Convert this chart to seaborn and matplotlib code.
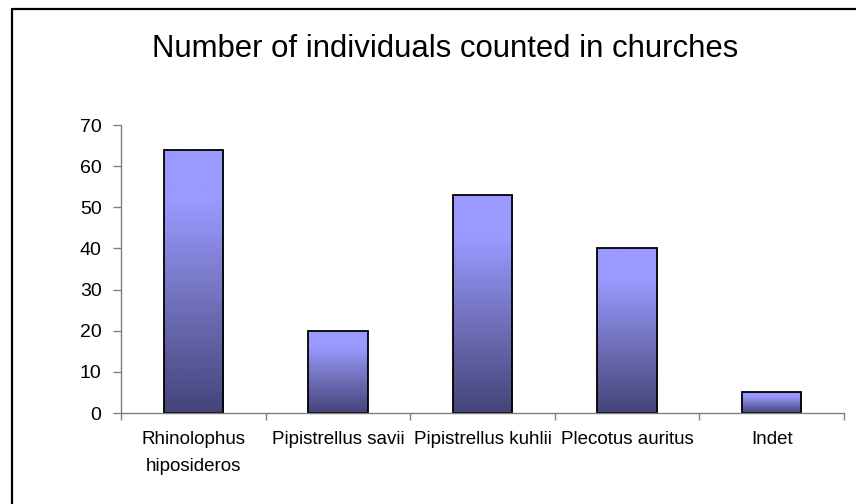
import numpy as np
import pandas as pd
import matplotlib
matplotlib.use("Agg")
import matplotlib.pyplot as plt
from matplotlib.colors import LinearSegmentedColormap
from matplotlib.lines import Line2D
import seaborn as sns

species = ["Rhinolophus\nhiposideros", "Pipistrellus savii", "Pipistrellus kuhlii",
           "Plecotus auritus", "Indet"]
counts = [64, 20, 53, 40, 5]
y_ticks = [0, 10, 20, 30, 40, 50, 60, 70]
title = "Number of individuals counted in churches"

sns.set_style("white")
plt.rcParams['font.family'] = ['Liberation Sans', 'DejaVu Sans']
plt.rcParams['text.color'] = 'black'
plt.rcParams['xtick.color'] = 'black'
plt.rcParams['ytick.color'] = 'black'

df = pd.DataFrame({"species": species, "count": counts})

fig = plt.figure(figsize=(8.56, 5.04), dpi=100)
ax = fig.add_axes([121/856, 1 - 413/504, (844 - 121)/856, (413 - 125)/504])

sns.barplot(data=df, x="species", y="count", ax=ax, width=0.41,
            color="#9999FF", edgecolor="black", linewidth=1.3)

cmap = LinearSegmentedColormap.from_list(
    "excel", [(0.0, "#44447A"), (0.45, "#7474C0"), (0.8, "#9999FF"), (1.0, "#9999FF")])
grad = np.linspace(1, 0, 256).reshape(-1, 1)
for p in ax.patches:
    x0, y0 = p.get_x(), p.get_y()
    w, h = p.get_width(), p.get_height()
    im = ax.imshow(grad, cmap=cmap, vmin=0, vmax=1, aspect="auto",
                   extent=[x0, x0 + w, y0, y0 + h], zorder=p.get_zorder() - 0.1,
                   interpolation="bilinear")
    im.set_clip_path(p)
    p.set_facecolor("none")

ax.set_xlim(-0.5, len(species) - 0.5)
ax.set_ylim(0, 70)
ax.set_yticks(y_ticks)
ax.set_xlabel("")
ax.set_ylabel("")

ax.set_xticks(range(len(species)))
ax.set_xticklabels(species, fontsize=13.5, linespacing=1.75)
ax.set_xticks(np.arange(-0.5, len(species), 1.0), minor=True)
ax.tick_params(axis="x", which="major", bottom=True, length=0, pad=13,
               labelcolor="black", labelsize=13.5)
ax.tick_params(axis="x", which="minor", bottom=True, length=5, direction="out",
               color="#808080", width=1)
ax.tick_params(axis="y", which="major", left=True, length=6, direction="out",
               color="#808080", width=1, pad=8, labelsize=14, labelcolor="black")

for s in ["top", "right"]:
    ax.spines[s].set_visible(False)
for s in ["left", "bottom"]:
    ax.spines[s].set_color("#808080")
    ax.spines[s].set_linewidth(1)

fig.text(445/856, 1 - 57/504, title, ha="center", va="baseline", fontsize=22.4,
         color="black")

bx = 11.5/856
by = 1 - 8.5/504
fig.add_artist(Line2D([bx, bx], [0, by], transform=fig.transFigure, color="black", lw=1.6))
fig.add_artist(Line2D([bx, 1], [by, by], transform=fig.transFigure, color="black", lw=1.6))

fig.savefig("out.png", dpi=100)
